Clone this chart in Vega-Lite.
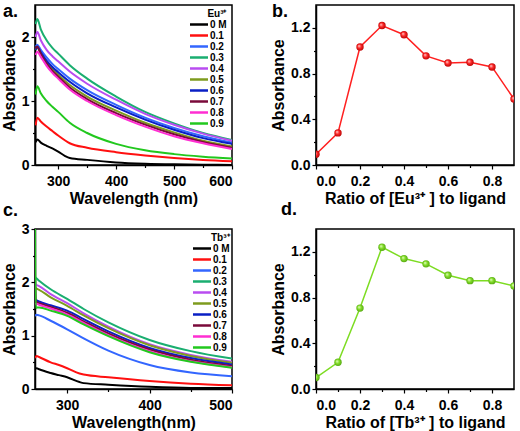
{
"$schema": "https://vega.github.io/schema/vega-lite/v6.json",
"background": "white",
"autosize": "pad",
"padding": {"left": 0, "top": 2, "right": 2, "bottom": 0},
"config": {
  "font": "Liberation Sans",
  "view": {"stroke": "black", "strokeWidth": 1.5},
  "axis": {"domainColor": "black", "domainWidth": 1.5, "tickColor": "black", "tickWidth": 1.2, "tickSize": 4, "labelFont": "Liberation Sans", "labelFontSize": 14, "labelFontWeight": "bold", "labelColor": "black", "titleFont": "Liberation Sans", "titleFontSize": 16, "titleFontWeight": "bold", "titleColor": "black", "grid": false},
  "axisX": {"labelPadding": 5, "titlePadding": 2},
  "axisY": {"labelPadding": 2, "titlePadding": 4},
  "title": {"font": "Liberation Sans", "fontSize": 18, "fontWeight": "bold", "color": "black", "anchor": "start", "frame": "group", "offset": 0, "baseline": "alphabetic"},
  "legend": {"symbolType": "M-2.25,0H2.25", "symbolSize": 64, "symbolStrokeWidth": 2.5, "labelFont": "Liberation Sans", "labelFontSize": 10, "labelFontWeight": "bold", "labelColor": "black", "titleFont": "Liberation Sans", "titleFontSize": 10, "titleFontWeight": "bold", "titleColor": "black", "titleAnchor": "end", "labelOffset": 5.5, "padding": 0, "rowPadding": 0, "titlePadding": 0}
},
"datasets": {
  "eu": [
    {"w":260,"s":"0 M","a":2.6},{"w":261,"s":"0 M","a":0.36},{"w":264,"s":"0 M","a":0.40},{"w":270,"s":"0 M","a":0.35},{"w":280,"s":"0 M","a":0.30},{"w":290,"s":"0 M","a":0.26},{"w":300,"s":"0 M","a":0.21},{"w":312,"s":"0 M","a":0.14},{"w":320,"s":"0 M","a":0.11},{"w":350,"s":"0 M","a":0.08},{"w":400,"s":"0 M","a":0.04},{"w":450,"s":"0 M","a":0.02},{"w":500,"s":"0 M","a":0.01},{"w":550,"s":"0 M","a":0.005},{"w":600,"s":"0 M","a":0.0},
    {"w":261,"s":"0.1","a":0.62},{"w":264,"s":"0.1","a":0.74},{"w":270,"s":"0.1","a":0.68},{"w":280,"s":"0.1","a":0.60},{"w":290,"s":"0.1","a":0.53},{"w":300,"s":"0.1","a":0.46},{"w":320,"s":"0.1","a":0.34},{"w":350,"s":"0.1","a":0.27},{"w":400,"s":"0.1","a":0.20},{"w":450,"s":"0.1","a":0.15},{"w":500,"s":"0.1","a":0.11},{"w":550,"s":"0.1","a":0.08},{"w":600,"s":"0.1","a":0.06},
    {"w":261,"s":"0.2","a":1.85},{"w":264,"s":"0.2","a":1.88},{"w":270,"s":"0.2","a":1.80},{"w":280,"s":"0.2","a":1.68},{"w":290,"s":"0.2","a":1.58},{"w":300,"s":"0.2","a":1.50},{"w":320,"s":"0.2","a":1.35},{"w":350,"s":"0.2","a":1.17},{"w":400,"s":"0.2","a":0.94},{"w":450,"s":"0.2","a":0.74},{"w":500,"s":"0.2","a":0.58},{"w":550,"s":"0.2","a":0.45},{"w":600,"s":"0.2","a":0.35},
    {"w":261,"s":"0.3","a":2.20},{"w":264,"s":"0.3","a":2.28},{"w":270,"s":"0.3","a":2.12},{"w":280,"s":"0.3","a":1.95},{"w":290,"s":"0.3","a":1.83},{"w":300,"s":"0.3","a":1.74},{"w":320,"s":"0.3","a":1.56},{"w":350,"s":"0.3","a":1.35},{"w":400,"s":"0.3","a":1.07},{"w":450,"s":"0.3","a":0.83},{"w":500,"s":"0.3","a":0.65},{"w":550,"s":"0.3","a":0.50},{"w":600,"s":"0.3","a":0.39},
    {"w":261,"s":"0.4","a":2.00},{"w":264,"s":"0.4","a":2.08},{"w":270,"s":"0.4","a":1.95},{"w":280,"s":"0.4","a":1.80},{"w":290,"s":"0.4","a":1.70},{"w":300,"s":"0.4","a":1.62},{"w":320,"s":"0.4","a":1.46},{"w":350,"s":"0.4","a":1.27},{"w":400,"s":"0.4","a":1.02},{"w":450,"s":"0.4","a":0.80},{"w":500,"s":"0.4","a":0.63},{"w":550,"s":"0.4","a":0.49},{"w":600,"s":"0.4","a":0.38},
    {"w":261,"s":"0.5","a":1.80},{"w":264,"s":"0.5","a":1.83},{"w":270,"s":"0.5","a":1.74},{"w":280,"s":"0.5","a":1.61},{"w":290,"s":"0.5","a":1.50},{"w":300,"s":"0.5","a":1.41},{"w":320,"s":"0.5","a":1.25},{"w":350,"s":"0.5","a":1.07},{"w":400,"s":"0.5","a":0.85},{"w":450,"s":"0.5","a":0.66},{"w":500,"s":"0.5","a":0.51},{"w":550,"s":"0.5","a":0.38},{"w":600,"s":"0.5","a":0.29},
    {"w":261,"s":"0.6","a":1.80},{"w":264,"s":"0.6","a":1.84},{"w":270,"s":"0.6","a":1.76},{"w":280,"s":"0.6","a":1.63},{"w":290,"s":"0.6","a":1.53},{"w":300,"s":"0.6","a":1.45},{"w":320,"s":"0.6","a":1.30},{"w":350,"s":"0.6","a":1.12},{"w":400,"s":"0.6","a":0.90},{"w":450,"s":"0.6","a":0.71},{"w":500,"s":"0.6","a":0.55},{"w":550,"s":"0.6","a":0.42},{"w":600,"s":"0.6","a":0.33},
    {"w":261,"s":"0.7","a":1.82},{"w":264,"s":"0.7","a":1.85},{"w":270,"s":"0.7","a":1.74},{"w":280,"s":"0.7","a":1.59},{"w":290,"s":"0.7","a":1.47},{"w":300,"s":"0.7","a":1.38},{"w":320,"s":"0.7","a":1.21},{"w":350,"s":"0.7","a":1.03},{"w":400,"s":"0.7","a":0.81},{"w":450,"s":"0.7","a":0.63},{"w":500,"s":"0.7","a":0.48},{"w":550,"s":"0.7","a":0.36},{"w":600,"s":"0.7","a":0.27},
    {"w":261,"s":"0.8","a":1.72},{"w":264,"s":"0.8","a":1.77},{"w":270,"s":"0.8","a":1.69},{"w":280,"s":"0.8","a":1.55},{"w":290,"s":"0.8","a":1.44},{"w":300,"s":"0.8","a":1.35},{"w":320,"s":"0.8","a":1.18},{"w":350,"s":"0.8","a":1.00},{"w":400,"s":"0.8","a":0.78},{"w":450,"s":"0.8","a":0.60},{"w":500,"s":"0.8","a":0.45},{"w":550,"s":"0.8","a":0.34},{"w":600,"s":"0.8","a":0.25},
    {"w":261,"s":"0.9","a":1.10},{"w":264,"s":"0.9","a":1.23},{"w":270,"s":"0.9","a":1.12},{"w":280,"s":"0.9","a":1.00},{"w":290,"s":"0.9","a":0.91},{"w":300,"s":"0.9","a":0.83},{"w":320,"s":"0.9","a":0.66},{"w":350,"s":"0.9","a":0.50},{"w":400,"s":"0.9","a":0.33},{"w":450,"s":"0.9","a":0.23},{"w":500,"s":"0.9","a":0.17},{"w":550,"s":"0.9","a":0.13},{"w":600,"s":"0.9","a":0.10}
  ],
  "tb": [
    {"w":261,"s":"0 M","a":0.38},{"w":263,"s":"0 M","a":0.39},{"w":266,"s":"0 M","a":0.37},{"w":280,"s":"0 M","a":0.30},{"w":290,"s":"0 M","a":0.26},{"w":300,"s":"0 M","a":0.22},{"w":315,"s":"0 M","a":0.13},{"w":320,"s":"0 M","a":0.11},{"w":350,"s":"0 M","a":0.08},{"w":400,"s":"0 M","a":0.04},{"w":450,"s":"0 M","a":0.02},{"w":500,"s":"0 M","a":0.02},
    {"w":261,"s":"0.1","a":0.58},{"w":263,"s":"0.1","a":0.62},{"w":266,"s":"0.1","a":0.60},{"w":280,"s":"0.1","a":0.50},{"w":290,"s":"0.1","a":0.45},{"w":300,"s":"0.1","a":0.39},{"w":315,"s":"0.1","a":0.29},{"w":320,"s":"0.1","a":0.27},{"w":350,"s":"0.1","a":0.22},{"w":400,"s":"0.1","a":0.15},{"w":450,"s":"0.1","a":0.10},{"w":500,"s":"0.1","a":0.07},
    {"w":261,"s":"0.2","a":1.37},{"w":263,"s":"0.2","a":1.39},{"w":266,"s":"0.2","a":1.38},{"w":280,"s":"0.2","a":1.28},{"w":300,"s":"0.2","a":1.12},{"w":320,"s":"0.2","a":0.95},{"w":350,"s":"0.2","a":0.72},{"w":400,"s":"0.2","a":0.45},{"w":450,"s":"0.2","a":0.31},{"w":500,"s":"0.2","a":0.24},
    {"w":261,"s":"0.3","a":2.10},{"w":263,"s":"0.3","a":2.07},{"w":266,"s":"0.3","a":2.03},{"w":280,"s":"0.3","a":1.87},{"w":300,"s":"0.3","a":1.69},{"w":320,"s":"0.3","a":1.50},{"w":350,"s":"0.3","a":1.25},{"w":400,"s":"0.3","a":0.92},{"w":450,"s":"0.3","a":0.71},{"w":500,"s":"0.3","a":0.57},
    {"w":261,"s":"0.4","a":1.97},{"w":263,"s":"0.4","a":1.95},{"w":266,"s":"0.4","a":1.93},{"w":280,"s":"0.4","a":1.78},{"w":300,"s":"0.4","a":1.61},{"w":320,"s":"0.4","a":1.42},{"w":350,"s":"0.4","a":1.17},{"w":400,"s":"0.4","a":0.84},{"w":450,"s":"0.4","a":0.64},{"w":500,"s":"0.4","a":0.51},
    {"w":261,"s":"0.5","a":1.90},{"w":263,"s":"0.5","a":1.88},{"w":266,"s":"0.5","a":1.86},{"w":280,"s":"0.5","a":1.72},{"w":300,"s":"0.5","a":1.56},{"w":320,"s":"0.5","a":1.38},{"w":350,"s":"0.5","a":1.14},{"w":400,"s":"0.5","a":0.82},{"w":450,"s":"0.5","a":0.62},{"w":500,"s":"0.5","a":0.49},
    {"w":261,"s":"0.6","a":1.68},{"w":263,"s":"0.6","a":1.66},{"w":266,"s":"0.6","a":1.64},{"w":280,"s":"0.6","a":1.57},{"w":300,"s":"0.6","a":1.47},{"w":320,"s":"0.6","a":1.31},{"w":350,"s":"0.6","a":1.08},{"w":400,"s":"0.6","a":0.77},{"w":450,"s":"0.6","a":0.58},{"w":500,"s":"0.6","a":0.46},
    {"w":261,"s":"0.7","a":2.10},{"w":262,"s":"0.7","a":1.65},{"w":263,"s":"0.7","a":1.63},{"w":266,"s":"0.7","a":1.61},{"w":280,"s":"0.7","a":1.54},{"w":300,"s":"0.7","a":1.43},{"w":320,"s":"0.7","a":1.27},{"w":350,"s":"0.7","a":1.04},{"w":400,"s":"0.7","a":0.74},{"w":450,"s":"0.7","a":0.55},{"w":500,"s":"0.7","a":0.43},
    {"w":261,"s":"0.8","a":1.60},{"w":263,"s":"0.8","a":1.60},{"w":266,"s":"0.8","a":1.58},{"w":280,"s":"0.8","a":1.51},{"w":300,"s":"0.8","a":1.40},{"w":320,"s":"0.8","a":1.24},{"w":350,"s":"0.8","a":1.01},{"w":400,"s":"0.8","a":0.71},{"w":450,"s":"0.8","a":0.52},{"w":500,"s":"0.8","a":0.41},
    {"w":261,"s":"0.9","a":3.0},{"w":262,"s":"0.9","a":1.52},{"w":263,"s":"0.9","a":1.53},{"w":266,"s":"0.9","a":1.53},{"w":280,"s":"0.9","a":1.47},{"w":300,"s":"0.9","a":1.37},{"w":320,"s":"0.9","a":1.21},{"w":350,"s":"0.9","a":0.99},{"w":400,"s":"0.9","a":0.69},{"w":450,"s":"0.9","a":0.51},{"w":500,"s":"0.9","a":0.40}
  ],
  "eur": [
    {"r":0.0,"a":0.094},{"r":0.1,"a":0.281},{"r":0.2,"a":1.033},{"r":0.3,"a":1.22},{"r":0.4,"a":1.14},{"r":0.5,"a":0.955},{"r":0.6,"a":0.893},{"r":0.7,"a":0.899},{"r":0.8,"a":0.858},{"r":0.9,"a":0.577}
  ],
  "tbr": [
    {"r":0.0,"a":0.10},{"r":0.1,"a":0.234},{"r":0.2,"a":0.708},{"r":0.3,"a":1.241},{"r":0.4,"a":1.141},{"r":0.5,"a":1.095},{"r":0.6,"a":0.995},{"r":0.7,"a":0.948},{"r":0.8,"a":0.948},{"r":0.9,"a":0.901}
  ]
},
"columns": 2,
"bounds": "flush",
"spacing": {"row": 64, "column": 84},
"resolve": {"scale": {"color": "independent"}, "legend": {"color": "independent"}},
"concat": [
  {
    "width": 197, "height": 160,
    "title": {"text": "a.", "dx": -32, "dy": 20},
    "data": {"name": "eu"},
    "resolve": {"axis": {"x": "independent", "y": "independent"}},
    "layer": [
      {
        "mark": {"type": "line", "strokeWidth": 2, "clip": true, "interpolate": "monotone"},
        "encoding": {
          "x": {"field": "w", "type": "quantitative", "scale": {"domain": [260, 600], "nice": false, "zero": false}, "axis": {"values": [300, 400, 500, 600], "title": "Wavelength (nm)"}},
          "y": {"field": "a", "type": "quantitative", "scale": {"domain": [0, 2.5], "nice": false}, "axis": {"values": [0, 1, 2], "title": "Absorbance"}},
          "color": {"field": "s", "type": "nominal",
            "scale": {"domain": ["0 M","0.1","0.2","0.3","0.4","0.5","0.6","0.7","0.8","0.9"], "range": ["#000000","#ff1010","#3366ff","#1aae70","#b94cf0","#7e9b1e","#0a1fc4","#7a0a3a","#ff2ed2","#22c81e"]},
            "legend": {"title": "Eu³⁺", "orient": "none", "legendX": 158.5, "legendY": 4}}
        }
      },
      {
        "mark": {"type": "line", "opacity": 0, "clip": true},
        "encoding": {
          "x": {"field": "w", "type": "quantitative", "axis": {"orient": "bottom", "values": [350, 450, 550], "labels": false, "domain": false, "title": null, "tickSize": 2.5}},
          "y": {"field": "a", "type": "quantitative", "axis": {"orient": "left", "values": [0.5, 1.5], "labels": false, "domain": false, "title": null, "tickSize": 2.5}},
          "detail": {"field": "s"}
        }
      }
    ]
  },
  {
    "width": 198, "height": 160,
    "title": {"text": "b.", "dx": -44, "dy": 20},
    "data": {"name": "eur"},
    "resolve": {"axis": {"x": "independent", "y": "independent"}},
    "layer": [
      {"mark": {"type": "line", "color": "#ff2020", "strokeWidth": 1.5, "clip": true},
       "encoding": {
        "x": {"field": "r", "type": "quantitative", "scale": {"domain": [0, 0.9], "nice": false}, "axis": {"values": [0, 0.2, 0.4, 0.6, 0.8], "format": ".1f", "title": "Ratio of [Eu³⁺ ] to ligand"}},
        "y": {"field": "a", "type": "quantitative", "scale": {"domain": [0, 1.4], "nice": false}, "axis": {"values": [0, 0.4, 0.8, 1.2], "format": ".1f", "title": "Absorbance"}}
       }},
      {"mark": {"type": "point", "filled": true, "size": 55, "opacity": 1, "clip": true, "fill": {"gradient": "radial", "x1": 0.35, "y1": 0.35, "r1": 0, "x2": 0.5, "y2": 0.5, "r2": 0.55, "stops": [{"offset": 0, "color": "#ffd6d6"}, {"offset": 0.45, "color": "#ff2a2a"}, {"offset": 1, "color": "#b00000"}]}},
       "encoding": {
        "x": {"field": "r", "type": "quantitative", "axis": {"orient": "bottom", "values": [0.1, 0.3, 0.5, 0.7], "labels": false, "domain": false, "title": null, "tickSize": 2.5}},
        "y": {"field": "a", "type": "quantitative", "axis": {"orient": "left", "values": [0.2, 0.6, 1.0], "labels": false, "domain": false, "title": null, "tickSize": 2.5}}
       }}
    ]
  },
  {
    "width": 197, "height": 160,
    "title": {"text": "c.", "dx": -32, "dy": 2},
    "data": {"name": "tb"},
    "resolve": {"axis": {"x": "independent", "y": "independent"}},
    "layer": [
      {
        "mark": {"type": "line", "strokeWidth": 2, "clip": true, "interpolate": "monotone"},
        "encoding": {
          "x": {"field": "w", "type": "quantitative", "scale": {"domain": [261, 500], "nice": false, "zero": false}, "axis": {"values": [300, 400, 500], "title": "Wavelength(nm)"}},
          "y": {"field": "a", "type": "quantitative", "scale": {"domain": [0, 3], "nice": false}, "axis": {"values": [0, 1, 2, 3], "title": "Absorbance"}},
          "color": {"field": "s", "type": "nominal",
            "scale": {"domain": ["0 M","0.1","0.2","0.3","0.4","0.5","0.6","0.7","0.8","0.9"], "range": ["#000000","#ff1010","#3366ff","#1aae70","#b94cf0","#7e9b1e","#0a1fc4","#7a0a3a","#ff2ed2","#22c81e"]},
            "legend": {"title": "Tb³⁺", "orient": "none", "legendX": 161.5, "legendY": 4, "rowPadding": -0.9}}
        }
      },
      {
        "mark": {"type": "line", "opacity": 0, "clip": true},
        "encoding": {
          "x": {"field": "w", "type": "quantitative", "axis": {"orient": "bottom", "values": [350, 450], "labels": false, "domain": false, "title": null, "tickSize": 2.5}},
          "y": {"field": "a", "type": "quantitative", "axis": {"orient": "left", "values": [0.5, 1.5, 2.5], "labels": false, "domain": false, "title": null, "tickSize": 2.5}},
          "detail": {"field": "s"}
        }
      }
    ]
  },
  {
    "width": 198, "height": 160,
    "title": {"text": "d.", "dx": -35, "dy": -6},
    "data": {"name": "tbr"},
    "resolve": {"axis": {"x": "independent", "y": "independent"}},
    "layer": [
      {"mark": {"type": "line", "color": "#7ddc22", "strokeWidth": 1.5, "clip": true},
       "encoding": {
        "x": {"field": "r", "type": "quantitative", "scale": {"domain": [0, 0.9], "nice": false}, "axis": {"values": [0, 0.2, 0.4, 0.6, 0.8], "format": ".1f", "title": "Ratio of [Tb³⁺ ] to ligand"}},
        "y": {"field": "a", "type": "quantitative", "scale": {"domain": [0, 1.4], "nice": false}, "axis": {"values": [0, 0.4, 0.8, 1.2], "format": ".1f", "title": "Absorbance"}}
       }},
      {"mark": {"type": "point", "filled": true, "size": 55, "opacity": 1, "clip": true, "fill": {"gradient": "radial", "x1": 0.35, "y1": 0.35, "r1": 0, "x2": 0.5, "y2": 0.5, "r2": 0.55, "stops": [{"offset": 0, "color": "#eaffd0"}, {"offset": 0.45, "color": "#86e02a"}, {"offset": 1, "color": "#4fa010"}]}},
       "encoding": {
        "x": {"field": "r", "type": "quantitative", "axis": {"orient": "bottom", "values": [0.1, 0.3, 0.5, 0.7], "labels": false, "domain": false, "title": null, "tickSize": 2.5}},
        "y": {"field": "a", "type": "quantitative", "axis": {"orient": "left", "values": [0.2, 0.6, 1.0], "labels": false, "domain": false, "title": null, "tickSize": 2.5}}
       }}
    ]
  }
]
}
